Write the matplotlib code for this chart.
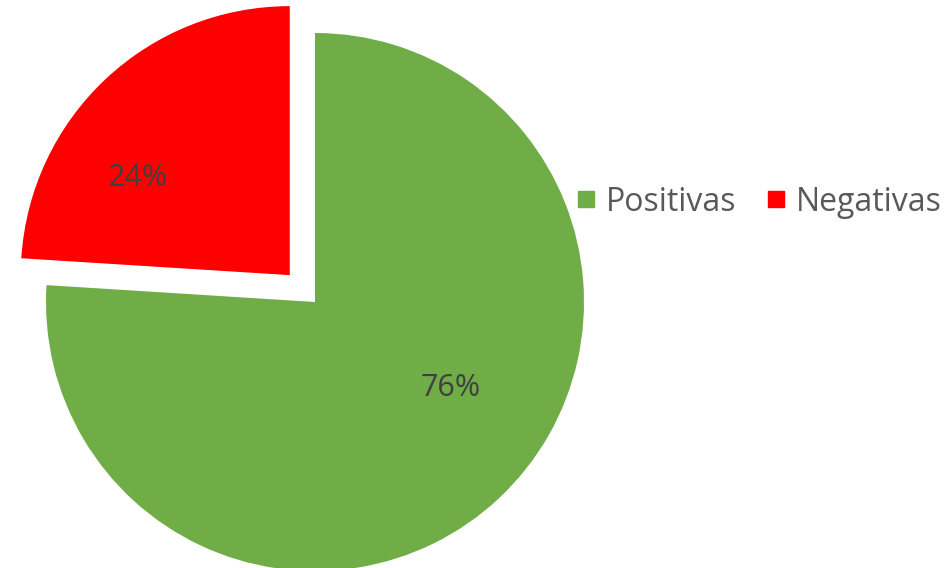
import matplotlib.pyplot as plt
from matplotlib.lines import Line2D

# datos del grafico
categorias = ["Positivas", "Negativas"]
porcentajes = [76, 24]
colores = ["#70AD47", "#FF0000"]

plt.rcParams['font.family'] = ['Open Sans', 'DejaVu Sans']

fig = plt.figure(figsize=(9.48, 5.68), dpi=100)
ax = fig.add_axes([0, 0, 1, 1])

wedges, textos, pcts = ax.pie(porcentajes, colors=colores, startangle=90, counterclock=False,
                              explode=[0, 0.137], autopct='%1.0f%%', pctdistance=0.62,
                              radius=1.0, wedgeprops=dict(linewidth=0),
                              textprops=dict(color="#404040", fontsize=22))

# 1 unidad = 269 px; centro del pastel en (315, 302) px (pie() pone sus propios limites)
r_px = 269.0
ax.set_aspect('equal', adjustable='datalim')
ax.set_xlim(-315 / r_px, (948 - 315) / r_px)
ax.set_ylim(-(568 - 302) / r_px, 302 / r_px)
ax.axis('off')

# Excel coloca las etiquetas un poco giradas respecto a la mitad del sector
pcts[0].set_position((0.505, -0.32))
pcts[1].set_position((-0.66, 0.46))

handles = [Line2D([0], [0], marker='s', linestyle='none', markersize=11,
                  markerfacecolor=c, markeredgecolor=c) for c in colores]
ax.legend(handles, categorias, loc='center left', bbox_to_anchor=(576 / 948, 1 - 202 / 568),
          bbox_transform=fig.transFigure, ncol=2, frameon=False, fontsize=23,
          labelcolor="#595959", handletextpad=0.3, columnspacing=0.9, handlelength=0.65,
          borderaxespad=0, borderpad=0)

fig.savefig("out.png", dpi=100)
